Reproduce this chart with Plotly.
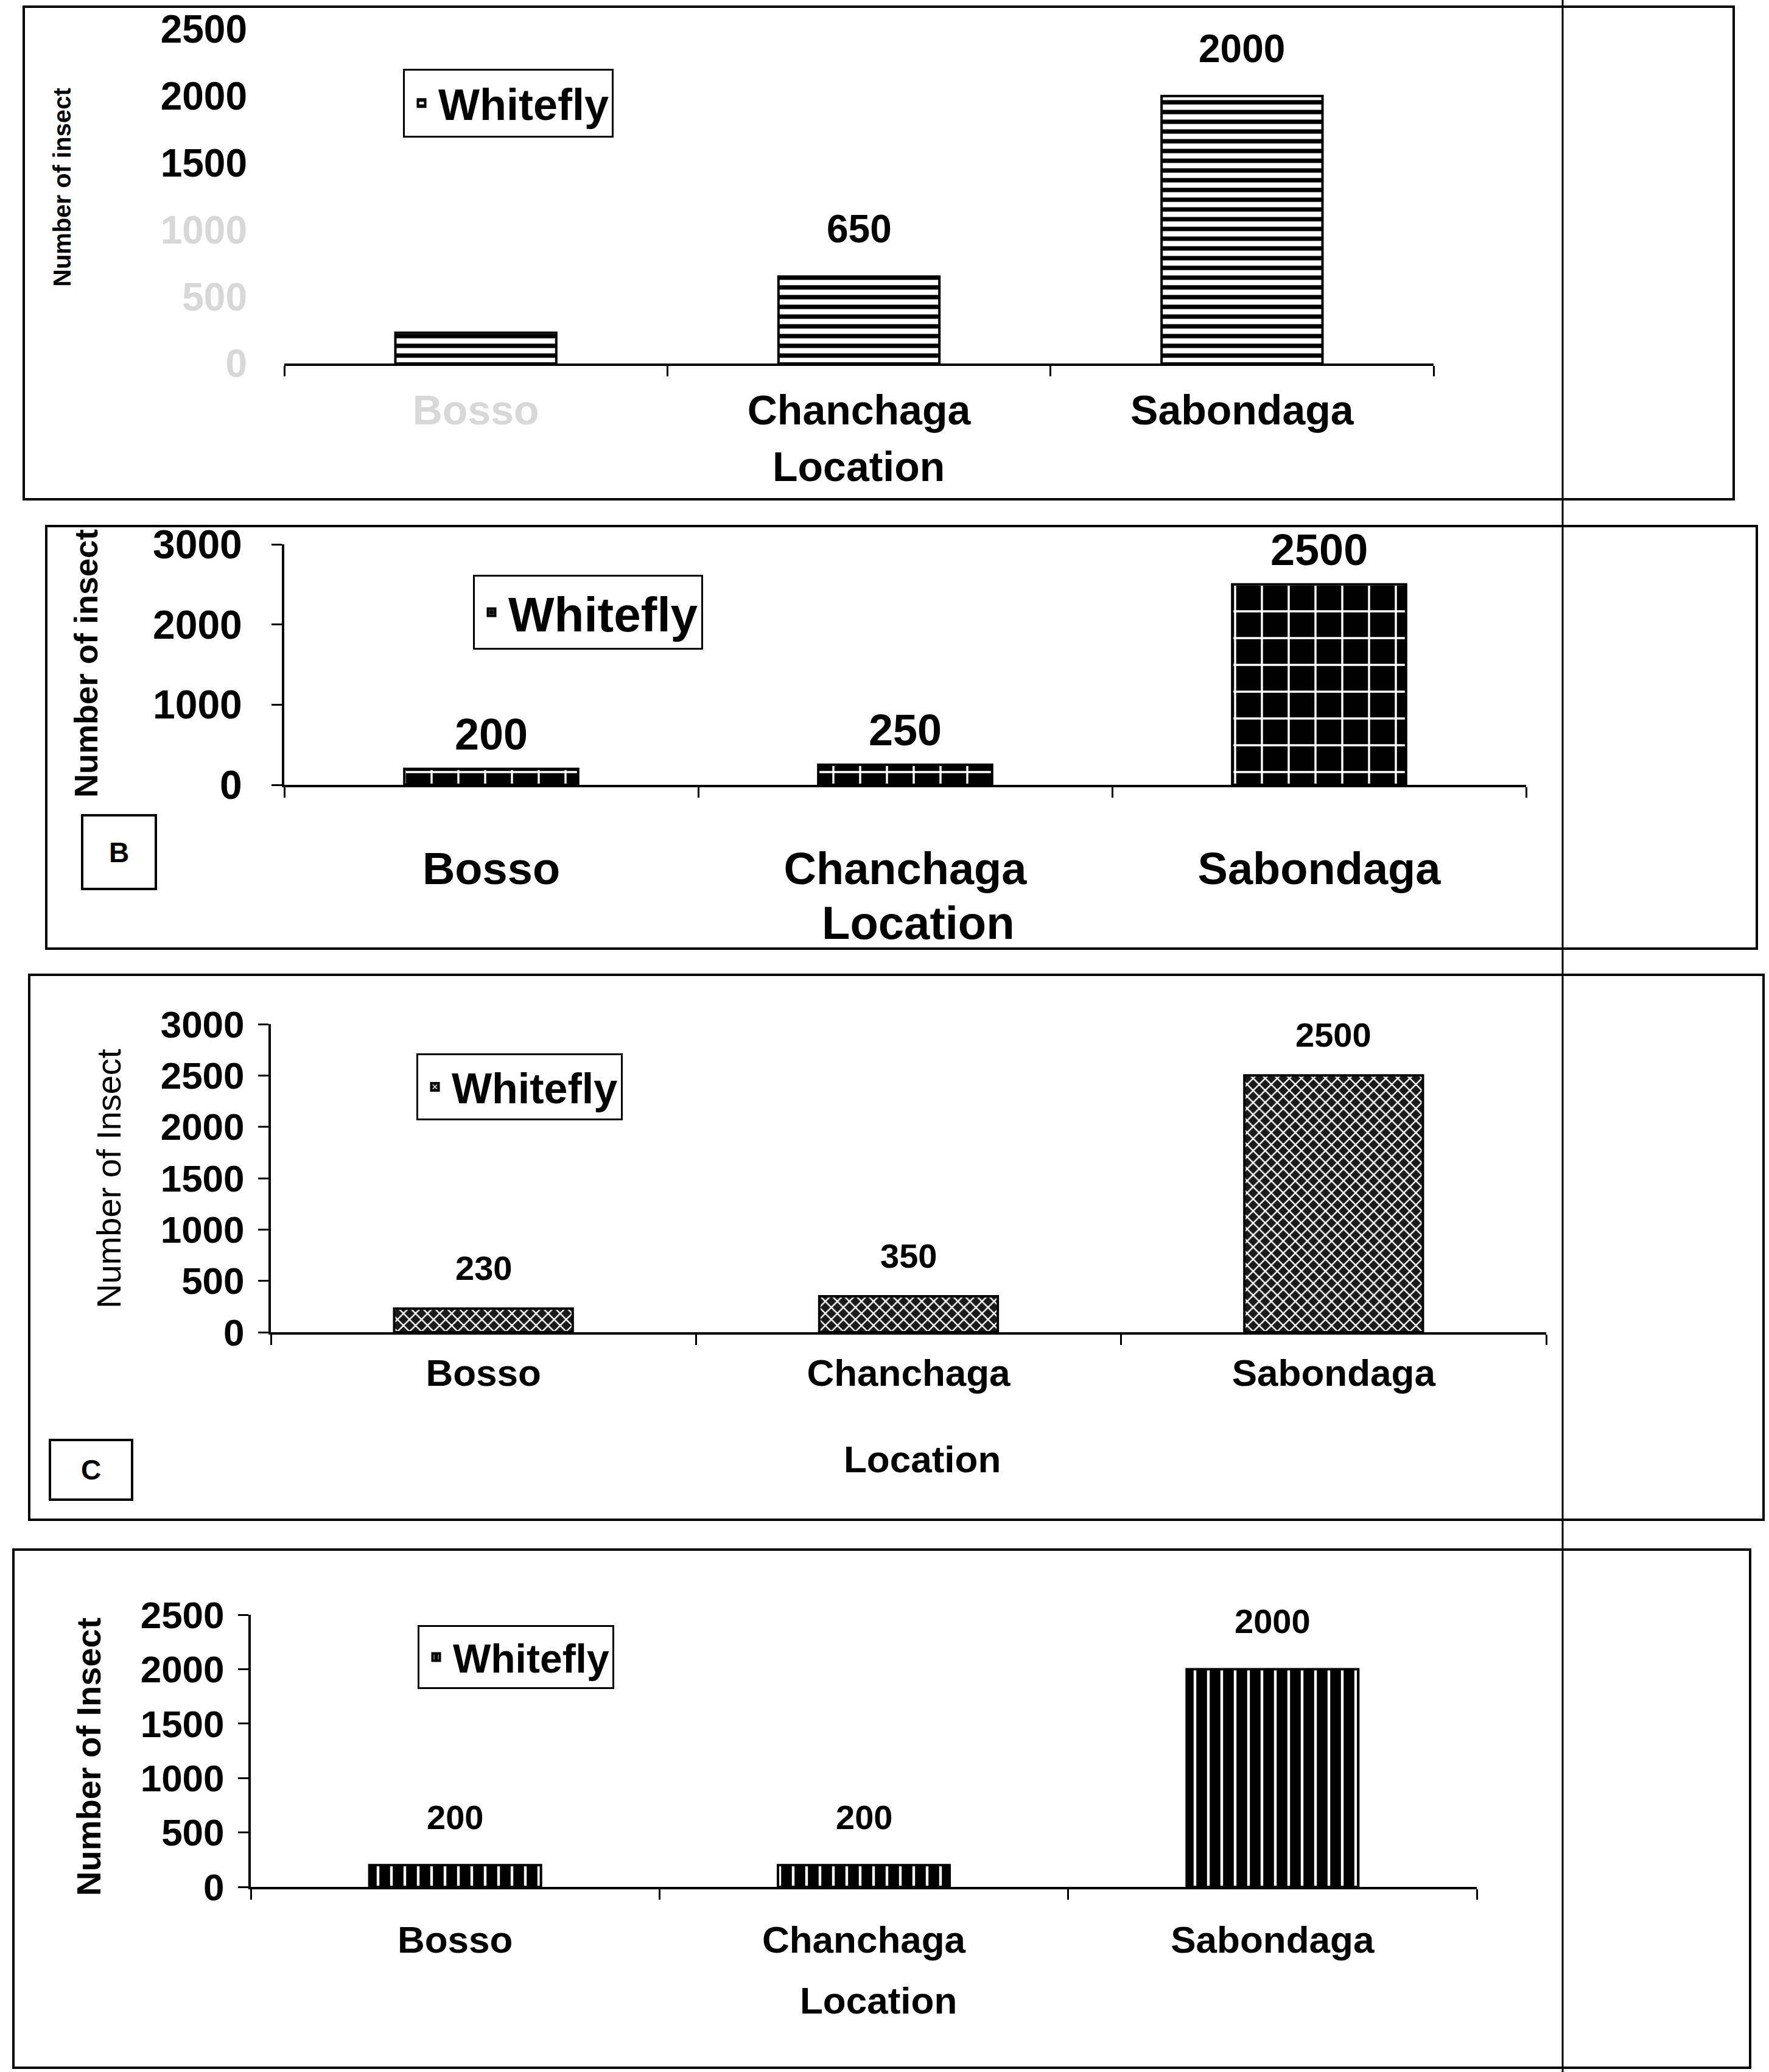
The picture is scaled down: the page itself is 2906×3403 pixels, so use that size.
import plotly.graph_objects as go

W, H = 2906, 3403
FONT = "Liberation Sans, Arial, sans-serif"

# ---- data -------------------------------------------------------------
locations = ["Bosso", "Chanchaga", "Sabondaga"]

counts_a = [230, 650, 2000]
counts_b = [200, 250, 2500]
counts_c = [230, 350, 2500]
counts_d = [200, 200, 2000]

value_labels_a = ["", "650", "2000"]
value_labels_b = ["200", "250", "2500"]
value_labels_c = ["230", "350", "2500"]
value_labels_d = ["200", "200", "2000"]

ticks_a = [0, 500, 1000, 1500, 2000, 2500]
ticks_b = [0, 1000, 2000, 3000]
ticks_c = [0, 500, 1000, 1500, 2000, 2500, 3000]
ticks_d = [0, 500, 1000, 1500, 2000, 2500]

series_name = "Whitefly"
x_title = "Location"
y_titles = ["Number of insect", "Number of insect", "Number of Insect", "Number of Insect"]
panel_tags = ["", "B", "C", ""]


def fx(p):
    return p / W


def fy(p):
    return 1 - p / H


# ---- per-panel styling (pixel boxes are left, top, right, bottom) -------
panels = [
    dict(counts=counts_a, labels=value_labels_a, ticks=ticks_a,
         plot=(467, 48, 2355, 597), frame=(39, 11, 2848, 820),
         legend_xy=(662, 113), legend_font=72,
         pattern=dict(shape="-", fgcolor="black", bgcolor="white", size=16, solidity=0.45),
         tick_font=64, cat_font=68, val_font=64, loc_font=68, ytitle_font=40,
         ytitle_xy=(102, 308), loc_xy=(1410, 766), val_shift=40,
         x_standoff=14, y_standoff=60, y_ticks="", y_line=False, ytitle_weight="bold",
         faded_ticks=[0, 500, 1000], faded_cats=["Bosso"], tag_box=None),
    dict(counts=counts_b, labels=value_labels_b, ticks=ticks_b,
         plot=(467, 894, 2507, 1289), frame=(76, 864, 2886, 1558),
         legend_xy=(777, 944), legend_font=80,
         pattern=dict(shape="+", fgcolor="white", bgcolor="black", size=44, solidity=0.15),
         tick_font=66, cat_font=74, val_font=72, loc_font=76, ytitle_font=54,
         ytitle_xy=(141, 1090), loc_xy=(1508, 1515), val_shift=15,
         x_standoff=70, y_standoff=35, y_ticks="outside", y_line=True, ytitle_weight="bold",
         faded_ticks=[], faded_cats=[], tag_box=(135, 1339, 256, 1460)),
    dict(counts=counts_c, labels=value_labels_c, ticks=ticks_c,
         plot=(445, 1682, 2540, 2188), frame=(48, 1601, 2897, 2496),
         legend_xy=(684, 1730), legend_font=70,
         pattern=dict(shape="x", fgcolor="white", bgcolor="#1a1a1a", size=14, solidity=0.3),
         tick_font=62, cat_font=62, val_font=56, loc_font=62, ytitle_font=56,
         ytitle_xy=(178, 1936), loc_xy=(1515, 2396), val_shift=33,
         x_standoff=10, y_standoff=10, y_ticks="outside", y_line=True, ytitle_weight="normal",
         faded_ticks=[], faded_cats=[], tag_box=(82, 2365, 217, 2463)),
    dict(counts=counts_d, labels=value_labels_d, ticks=ticks_d,
         plot=(412, 2652, 2426, 3099), frame=(22, 2545, 2875, 3396),
         legend_xy=(686, 2669), legend_font=66,
         pattern=dict(shape="|", fgcolor="white", bgcolor="black", size=22, solidity=0.2),
         tick_font=62, cat_font=62, val_font=56, loc_font=62, ytitle_font=56,
         ytitle_xy=(145, 2886), loc_xy=(1443, 3285), val_shift=45,
         x_standoff=30, y_standoff=10, y_ticks="outside", y_line=True, ytitle_weight="bold",
         faded_ticks=[], faded_cats=[], tag_box=None),
]

fig = go.Figure()
layout = dict(
    width=W, height=H,
    margin=dict(l=0, r=0, t=0, b=0, pad=0, autoexpand=False),
    paper_bgcolor="white", plot_bgcolor="white",
    bargap=0.58, showlegend=True,
)
shapes = []
annotations = []

for i, p in enumerate(panels):
    n = "" if i == 0 else str(i + 1)
    xa, ya = "x" + n, "y" + n
    leg = "legend" + n
    l, t, r, b = p["plot"]

    fig.add_trace(go.Bar(
        x=locations, y=p["counts"], name=series_name,
        xaxis=xa, yaxis=ya, legend=leg, showlegend=True,
        width=0.42,
        marker=dict(color=p["pattern"]["bgcolor"],
                    line=dict(color="black", width=4),
                    pattern=dict(fillmode="replace", **p["pattern"])),
        cliponaxis=False,
    ))

    ymax = p["ticks"][-1]
    tick_text = [
        f'<span style="color:#d8d8d8">{v}</span>' if v in p["faded_ticks"] else str(v)
        for v in p["ticks"]
    ]
    cat_text = [
        f'<span style="color:#d8d8d8">{c}</span>' if c in p["faded_cats"] else c
        for c in locations
    ]

    layout["xaxis" + n] = dict(
        domain=[fx(l), fx(r)], anchor=ya, type="category", automargin=False,
        range=[-0.5, 2.5], showline=True, linecolor="black", linewidth=4,
        ticks="outside", tickson="boundaries", ticklen=17, tickwidth=3, tickcolor="black",
        tickvals=locations, ticktext=cat_text,
        tickfont=dict(family=FONT, size=p["cat_font"], color="black", weight="bold"),
        ticklabelstandoff=p["x_standoff"], showgrid=False, zeroline=False, fixedrange=True,
    )
    layout["yaxis" + n] = dict(
        domain=[fy(b), fy(t)], anchor=xa, range=[0, ymax], automargin=False,
        tickvals=p["ticks"], ticktext=tick_text,
        showline=p["y_line"], linecolor="black", linewidth=4,
        ticks=p["y_ticks"], ticklen=17, tickwidth=3, tickcolor="black",
        tickfont=dict(family=FONT, size=p["tick_font"], color="black", weight="bold"),
        ticklabelstandoff=p["y_standoff"], showgrid=False, zeroline=False, fixedrange=True,
    )
    layout[leg] = dict(
        x=fx(p["legend_xy"][0]), y=fy(p["legend_xy"][1]),
        xanchor="left", yanchor="top", xref="paper", yref="paper",
        bgcolor="white", bordercolor="black", borderwidth=3,
        font=dict(family=FONT, size=p["legend_font"], color="black", weight="bold"),
        itemwidth=45, tracegroupgap=0,
    )

    # value labels above each bar
    for loc, v, txt in zip(locations, p["counts"], p["labels"]):
        if not txt:
            continue
        annotations.append(dict(
            x=loc, y=v, xref=xa, yref=ya, text=txt, showarrow=False,
            yanchor="bottom", yshift=p["val_shift"],
            font=dict(family=FONT, size=p["val_font"], color="black", weight="bold"),
        ))

    # axis titles
    annotations.append(dict(
        x=fx(p["loc_xy"][0]), y=fy(p["loc_xy"][1]), xref="paper", yref="paper",
        text=x_title, showarrow=False, xanchor="center", yanchor="middle",
        font=dict(family=FONT, size=p["loc_font"], color="black", weight="bold"),
    ))
    annotations.append(dict(
        x=fx(p["ytitle_xy"][0]), y=fy(p["ytitle_xy"][1]), xref="paper", yref="paper",
        text=y_titles[i], textangle=-90, showarrow=False, xanchor="center", yanchor="middle",
        font=dict(family=FONT, size=p["ytitle_font"], color="black", weight=p["ytitle_weight"]),
    ))

    # panel frame
    fl, ft, fr, fb = p["frame"]
    shapes.append(dict(type="rect", xref="paper", yref="paper",
                       x0=fx(fl), x1=fx(fr), y0=fy(fb), y1=fy(ft),
                       line=dict(color="black", width=4), fillcolor="rgba(0,0,0,0)", layer="below"))

    # boxed panel tag
    if p["tag_box"]:
        bl, bt, br, bb = p["tag_box"]
        shapes.append(dict(type="rect", xref="paper", yref="paper",
                           x0=fx(bl), x1=fx(br), y0=fy(bb), y1=fy(bt),
                           line=dict(color="black", width=4)))
        annotations.append(dict(
            x=fx((bl + br) / 2), y=fy((bt + bb) / 2), xref="paper", yref="paper",
            text=panel_tags[i], showarrow=False, xanchor="center", yanchor="middle",
            font=dict(family=FONT, size=46, color="black", weight="bold"),
        ))

# fold line running down the page
shapes.append(dict(type="line", xref="paper", yref="paper",
                   x0=fx(2567), x1=fx(2567), y0=0, y1=1,
                   line=dict(color="black", width=3)))

layout["shapes"] = shapes
layout["annotations"] = annotations
fig.update_layout(**layout)

fig.write_html("out.html")
